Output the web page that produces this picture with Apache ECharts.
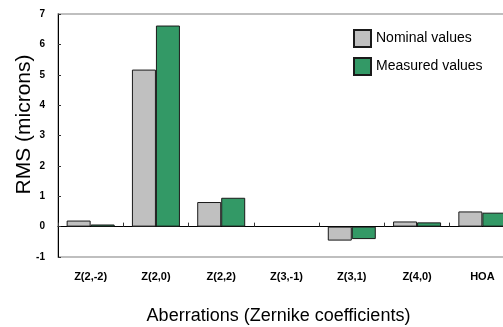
<!DOCTYPE html>
<html>
<head>
<meta charset="utf-8">
<script src="https://cdn.jsdelivr.net/npm/echarts@6/dist/echarts.min.js"></script>
<style>
  html, body { margin: 0; padding: 0; background: #fff; }
  #chart { width: 503px; height: 327px; }
</style>
</head>
<body>
<div id="chart"></div>
<script>
// Zernike aberration terms and their RMS values (microns)
const categories = ['Z(2,-2)', 'Z(2,0)', 'Z(2,2)', 'Z(3,-1)', 'Z(3,1)', 'Z(4,0)', 'HOA'];
const nominalValues = [0.20, 5.17, 0.81, 0.0, -0.46, 0.17, 0.50];
const measuredValues = [0.07, 6.62, 0.95, 0.0, -0.41, 0.14, 0.46];
const yTicks = { min: -1, max: 7, step: 1 };

const FONT = 'Liberation Sans, Arial, sans-serif';
const chart = echarts.init(document.getElementById('chart'), null, { renderer: 'canvas' });

// zero-height bars get no outline
const barData = values => values.map(v => v === 0 ? { value: v, itemStyle: { borderWidth: 0 } } : v);

chart.setOption({
  animation: false,
  textStyle: { fontFamily: FONT, color: '#000' },
  grid: {
    left: 58, top: 14, width: 457, bottom: 70,
    outerBoundsMode: 'none',
    containLabel: false,
    show: true, borderColor: '#aaaaaa', borderWidth: 1.5, backgroundColor: 'transparent'
  },
  legend: {
    orient: 'vertical',
    left: 348, top: 24,
    itemWidth: 17, itemHeight: 17, itemGap: 9,
    icon: 'rect',
    textStyle: { fontFamily: FONT, fontSize: 14, color: '#000' },
    data: ['Nominal values', 'Measured values']
  },
  xAxis: [
    {
      type: 'category',
      data: categories,
      position: 'bottom',
      axisLine: { show: false, onZero: false },
      axisTick: { show: false },
      axisLabel: { fontFamily: FONT, fontSize: 11, fontWeight: 'bold', color: '#000', margin: 14 },
      name: 'Aberrations (Zernike coefficients)',
      nameLocation: 'middle',
      nameGap: 50,
      nameTextStyle: { fontFamily: FONT, fontSize: 18, color: '#000', padding: [0, 16, 0, 0] }
    },
    {
      // zero baseline with category separators
      type: 'category',
      data: categories,
      position: 'top',
      axisLine: { show: true, onZero: true, lineStyle: { color: '#000', width: 1 } },
      axisTick: { show: true, inside: false, length: 4, lineStyle: { color: '#333' } },
      axisLabel: { show: false }
    }
  ],
  yAxis: {
    type: 'value',
    min: yTicks.min, max: yTicks.max, interval: yTicks.step,
    axisLine: { show: true, lineStyle: { color: '#000', width: 1 } },
    axisTick: { show: true, inside: true, length: 3, lineStyle: { color: '#333' } },
    splitLine: { show: false },
    axisLabel: { fontFamily: FONT, fontSize: 10, fontWeight: 'bold', color: '#000', margin: 13 },
    name: 'RMS (microns)',
    nameLocation: 'middle',
    nameMoveOverlap: false,
    nameGap: 23,
    nameTextStyle: { fontFamily: FONT, fontSize: 21, color: '#000', padding: [0, 0, 0, 22] }
  },
  series: [
    {
      name: 'Nominal values',
      type: 'bar',
      data: barData(nominalValues),
      barWidth: 24,
      barGap: '0%',
      itemStyle: { color: '#c0c0c0', borderColor: '#1a1a1a', borderWidth: 1 }
    },
    {
      name: 'Measured values',
      type: 'bar',
      data: barData(measuredValues),
      barWidth: 24,
      barGap: '0%',
      itemStyle: { color: '#339966', borderColor: '#1a1a1a', borderWidth: 1 }
    }
  ]
});
</script>
</body>
</html>
